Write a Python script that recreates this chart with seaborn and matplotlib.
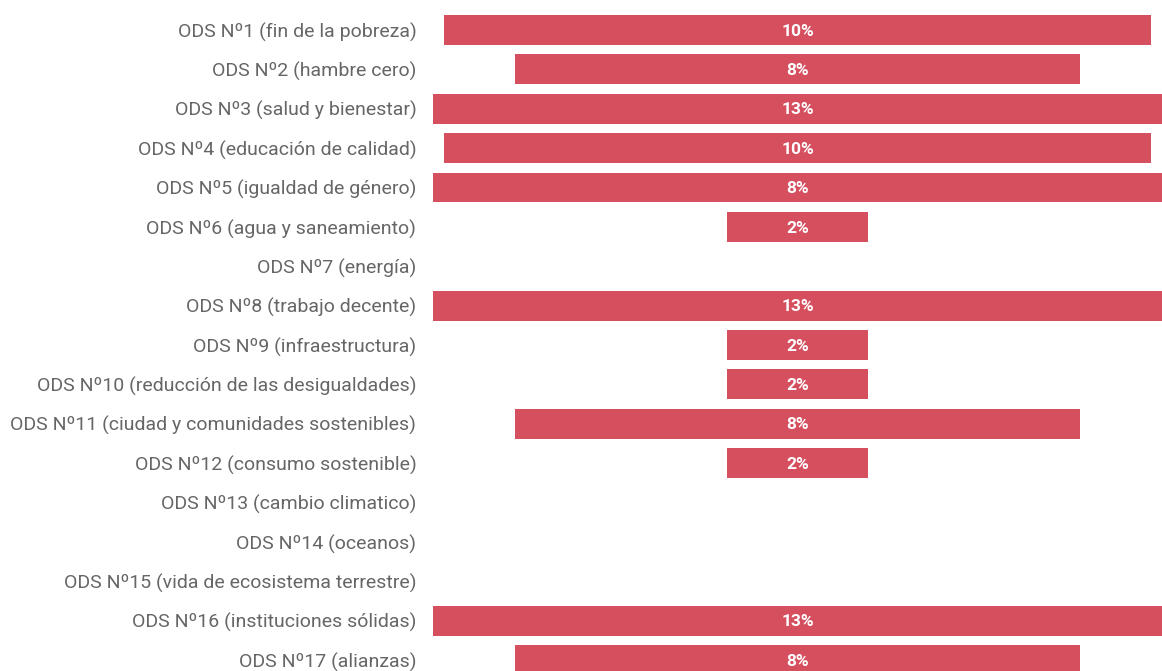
import seaborn as sns
import pandas as pd
import matplotlib.pyplot as plt

categories = [
    "ODS Nº1 (fin de la pobreza)",
    "ODS Nº2 (hambre cero)",
    "ODS Nº3 (salud y bienestar)",
    "ODS Nº4 (educación de calidad)",
    "ODS Nº5 (igualdad de género)",
    "ODS Nº6 (agua y saneamiento)",
    "ODS Nº7 (energía)",
    "ODS Nº8 (trabajo decente)",
    "ODS Nº9 (infraestructura)",
    "ODS Nº10 (reducción de las desigualdades)",
    "ODS Nº11 (ciudad y comunidades sostenibles)",
    "ODS Nº12 (consumo sostenible)",
    "ODS Nº13 (cambio climatico)",
    "ODS Nº14 (oceanos)",
    "ODS Nº15 (vida de ecosistema terrestre)",
    "ODS Nº16 (instituciones sólidas)",
    "ODS Nº17 (alianzas)",
]
values = [10, 8, 13, 10, 13, 2, 0, 13, 2, 2, 8, 2, 0, 0, 0, 13, 8]
labels = ["10%", "8%", "13%", "10%", "8%", "2%", "", "13%", "2%", "2%",
          "8%", "2%", "", "", "", "13%", "8%"]

df = pd.DataFrame({"ods": categories, "pct": values})

sns.set_style("white")
plt.rcParams["font.family"] = ["Roboto", "DejaVu Sans"]

fig = plt.figure(figsize=(11.62, 6.71), dpi=100)
ax = fig.add_axes([433 / 1162, -8.7 / 671, 1 - 433 / 1162, 669.4 / 671])

sns.barplot(data=df, x="pct", y="ods", orient="h", color="#D64F5F",
            saturation=1, width=0.76, linewidth=0, ax=ax)

# center each bar on zero
for p in ax.patches:
    p.set_x(p.get_x() - p.get_width() / 2)

for i, lab in enumerate(labels):
    if lab:
        ax.text(0, i + 0.03, lab, ha="center", va="center", color="white",
                fontsize=12.5, fontweight="bold", clip_on=True)

ax.set_xlim(-5.155, 5.155)
ax.set_ylim(16.5, -0.5)
ax.set_xlabel("")
ax.set_ylabel("")
ax.set_xticks([])
ax.tick_params(axis="y", length=0, pad=12, labelsize=14, labelcolor="#666666")
sns.despine(ax=ax, left=True, bottom=True)

fig.savefig("out.png", dpi=100)
